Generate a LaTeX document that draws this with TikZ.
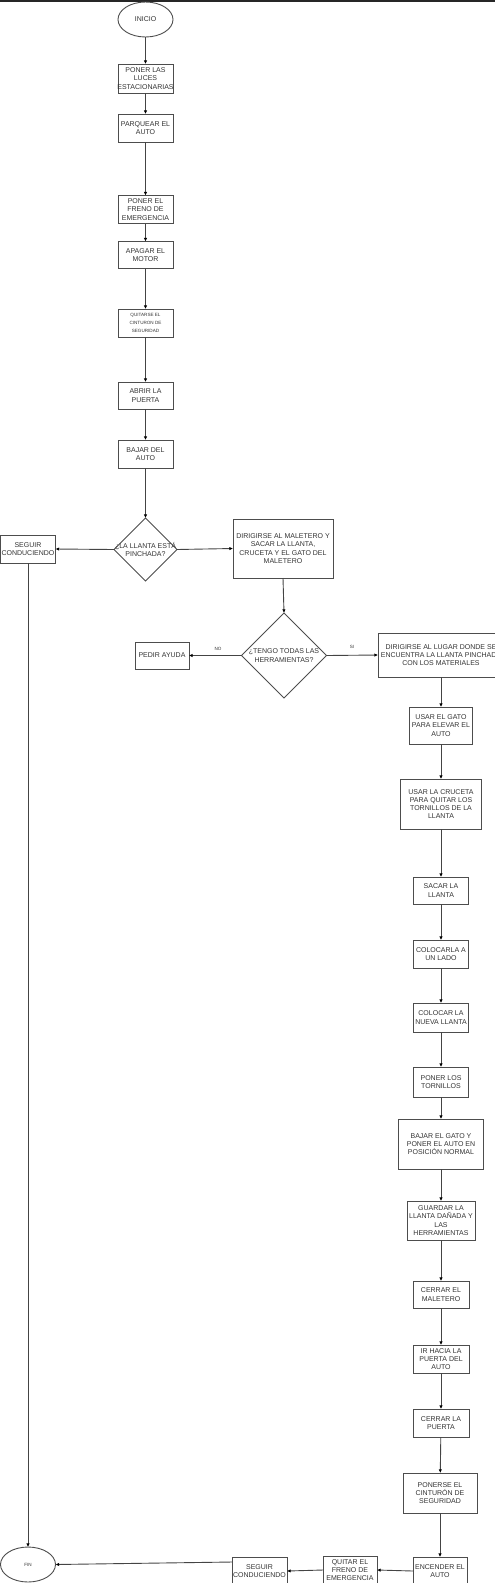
\documentclass[tikz,border=0pt]{standalone}
\usepackage{fontspec}
\setmainfont{Liberation Sans}
\usetikzlibrary{arrows.meta,shapes.geometric}
\definecolor{linec}{HTML}{4D4D4D}
\definecolor{conc}{HTML}{444444}
\definecolor{txtc}{HTML}{333333}
\tikzset{
  boxst/.style={draw=linec, line width=0.9pt, inner sep=0pt, outer sep=0pt},
  ellst/.style={draw=linec, line width=0.9pt, ellipse, inner sep=0pt, outer sep=0pt, minimum width=55, minimum height=35},
  diast/.style={draw=linec, line width=0.9pt, diamond, inner sep=0pt, outer sep=0pt},
  txt/.style={align=center, font=\fontsize{7}{8.3}\selectfont, text=txtc, inner sep=0pt},
  smalltxt/.style={align=center, font=\fontsize{4.6}{7.6}\selectfont, text=txtc, inner sep=0pt},
  arr/.style={draw=conc, line width=0.9pt, -{Latex[length=3.6pt,width=3.4pt,color=black]}},
}
\newcommand\mkbox[6]{%
  \node[boxst, minimum width=#4, minimum height=#5] (#1) at (#2,#3) {};
  \node[txt] (#1t) at (#1.center) {#6};}
\begin{document}
\begin{tikzpicture}[x=1pt,y=-1pt]
\useasboundingbox (0,0) rectangle (495,1583);
\fill[black!85] (0,0) rectangle (495,1.6);

% main column
\node[ellst] (inicio) at (145.5,19.5) {};
\node[txt] (iniciot) at (inicio.center) {INICIO};
\mkbox{n1}{145.5}{78.5}{55}{29}{PONER LAS\\LUCES\\ESTACIONARIAS}
\mkbox{n2}{145.5}{128}{55}{28}{PARQUEAR EL\\AUTO}
\mkbox{n3}{145.5}{209.5}{55}{28}{PONER EL\\FRENO DE\\EMERGENCIA}
\mkbox{n4}{145.5}{255}{55}{27}{APAGAR EL\\MOTOR}
\node[boxst, minimum width=55, minimum height=28] (n5) at (145.5,323) {};
\node[smalltxt] (n5t) at (n5.center) {QUITARSE EL\\CINTURON DE\\SEGURIDAD};
\mkbox{n6}{145.5}{395.5}{55}{27}{ABRIR LA\\PUERTA}
\mkbox{n7}{145.5}{454}{55}{28}{BAJAR DEL\\AUTO}
\node[diast, minimum width=63, minimum height=63] (d1) at (145.5,549.5) {};
\node[txt] (d1t) at (d1.center) {¿LA LLANTA ESTÁ\\PINCHADA?};

\mkbox{seg1}{28}{549}{55}{28}{SEGUIR\\CONDUCIENDO}
\mkbox{mal}{283}{548.5}{100}{59}{DIRIGIRSE AL MALETERO Y\\SACAR LA LLANTA,\\CRUCETA Y EL GATO DEL\\MALETERO}

\node[diast, minimum width=85, minimum height=85] (d2) at (284,655.5) {};
\node[txt] (d2t) at (d2.center) {¿TENGO TODAS LAS\\HERRAMIENTAS?};
\mkbox{ayuda}{162}{655.5}{54}{27}{PEDIR AYUDA}
\mkbox{lugar}{441}{655}{126}{44}{DIRIGIRSE AL LUGAR DONDE SE\\ENCUENTRA LA LLANTA PINCHADA\\CON LOS MATERIALES}
\node[smalltxt] (no) at (218,649) {NO};
\node[smalltxt] (si) at (352,647) {SI};

% right column
\mkbox{gato}{441}{725.5}{63}{37}{USAR EL GATO\\PARA ELEVAR EL\\AUTO}
\mkbox{cruceta}{441}{804}{81}{50}{USAR LA CRUCETA\\PARA QUITAR LOS\\TORNILLOS DE LA\\LLANTA}
\mkbox{sacar}{441}{890.5}{55}{27}{SACAR LA\\LLANTA}
\mkbox{colocarla}{441}{954}{55}{28}{COLOCARLA A\\UN LADO}
\mkbox{nueva}{441}{1017.5}{55}{29}{COLOCAR LA\\NUEVA LLANTA}
\mkbox{tornillos}{441}{1082}{55}{30}{PONER LOS\\TORNILLOS}
\mkbox{bajargato}{441}{1144}{85}{50}{BAJAR EL GATO Y\\PONER EL AUTO EN\\POSICIÓN NORMAL}
\mkbox{guardar}{441}{1220.5}{68}{39}{GUARDAR LA\\LLANTA DAÑADA Y\\LAS\\HERRAMIENTAS}
\mkbox{cerrarmal}{441}{1294.5}{56}{27}{CERRAR EL\\MALETERO}
\mkbox{irhacia}{441}{1359}{56}{28}{IR HACIA LA\\PUERTA DEL\\AUTO}
\mkbox{cerrarpuerta}{441}{1423}{56}{28}{CERRAR LA\\PUERTA}
\mkbox{ponerse}{440}{1493}{74}{40}{PONERSE EL\\CINTURÓN DE\\SEGURIDAD}

% bottom row
\mkbox{encender}{440}{1571}{54}{28}{ENCENDER EL\\AUTO}
\mkbox{quitar}{350}{1570}{54}{28}{QUITAR EL\\FRENO DE\\EMERGENCIA}
\mkbox{seguir2}{259.5}{1571}{55}{28}{SEGUIR\\CONDUCIENDO}
\node[ellst] (fin) at (28,1564.5) {};
\node[smalltxt] (fint) at (fin.center) {FIN};

% connectors
\draw[arr] (inicio) -- (n1);
\draw[arr] (n1) -- (n2);
\draw[arr] (n2) -- (n3);
\draw[arr] (n3) -- (n4);
\draw[arr] (n4) -- (n5);
\draw[arr] (n5) -- (n6);
\draw[arr] (n6) -- (n7);
\draw[arr] (n7) -- (d1);
\draw[arr] (d1.west) -- (seg1.east);
\draw[arr] (d1.east) -- (mal.west);
\draw[arr] (seg1.south) -- (fin.north);
\draw[arr] (mal.south) -- (d2.north);
\draw[arr] (d2.west) -- (ayuda.east);
\draw[arr] (d2.east) -- (lugar.west);
\draw[arr] (lugar) -- (gato);
\draw[arr] (gato) -- (cruceta);
\draw[arr] (cruceta) -- (sacar);
\draw[arr] (sacar) -- (colocarla);
\draw[arr] (colocarla) -- (nueva);
\draw[arr] (nueva) -- (tornillos);
\draw[arr] (tornillos) -- (bajargato);
\draw[arr] (bajargato) -- (guardar);
\draw[arr] (guardar) -- (cerrarmal);
\draw[arr] (cerrarmal) -- (irhacia);
\draw[arr] (irhacia) -- (cerrarpuerta);
\draw[arr] (cerrarpuerta) -- (ponerse);
\draw[arr] (ponerse.south) -- (encender.north);
\draw[arr] (encender.west) -- (quitar.east);
\draw[arr] (quitar.west) -- (seguir2.east);
\draw[arr] ([yshift=9pt]seguir2.west) -- (fin.east);
\end{tikzpicture}
\end{document}
